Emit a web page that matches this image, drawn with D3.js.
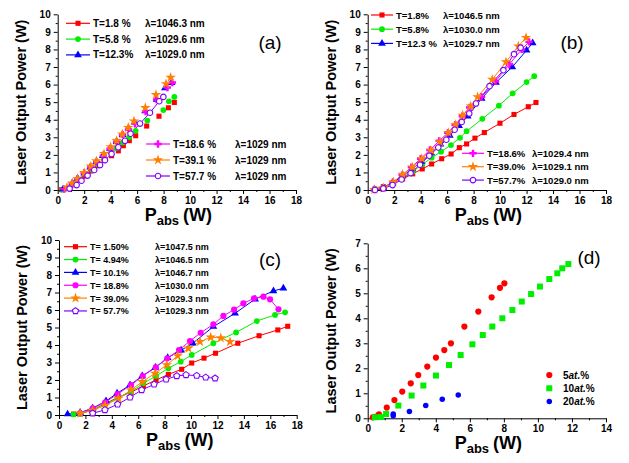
<!DOCTYPE html>
<html><head><meta charset="utf-8">
<script src="https://cdn.jsdelivr.net/npm/d3@7"></script>
<style>body{margin:0;background:#fff}svg{display:block}text{font-family:"Liberation Sans",Arial,sans-serif}</style>
</head><body><svg id="c" width="629" height="463"></svg>
<script>
// ---------- DATA ----------
// Panel (a)
const a_T1_8  = [[0.3,0.02],[0.7,0.08],[1.2,0.3],[1.6,0.55],[2.0,0.8],[2.5,1.08],[3.0,1.38],[3.5,1.68],[4.07,1.95],[4.58,2.23],[4.96,2.52],[5.41,2.81],[5.89,3.09],[6.72,3.64],[7.65,4.2],[8.36,4.68],[8.81,4.98]];
const a_T5_8  = [[0.35,0.02],[0.75,0.1],[1.25,0.35],[1.7,0.6],[2.1,0.9],[2.6,1.15],[3.05,1.45],[3.5,1.78],[4.0,2.1],[4.45,2.38],[4.9,2.7],[5.4,3.0],[5.89,3.37],[6.77,3.95],[7.98,4.55],[8.4,5.05],[8.81,5.3]];
const a_T12_3 = [[0.4,0.05],[1.1,0.4],[1.5,0.65],[2.0,0.95],[2.45,1.3],[2.9,1.6],[3.4,1.95],[3.95,2.35],[4.45,2.75],[4.9,3.15],[5.35,3.5],[5.8,3.85],[6.6,4.5],[7.47,5.15],[8.1,5.8],[8.6,6.1]];
const a_T18_6 = [[0.5,0.05],[1.1,0.38],[1.5,0.65],[2.0,0.97],[2.5,1.3],[2.95,1.6],[3.45,1.95],[3.95,2.35],[4.45,2.75],[4.9,3.15],[5.35,3.45],[5.84,3.77],[6.64,4.47],[7.47,5.15],[8.28,5.83],[8.66,6.12]];
const a_T39_1 = [[0.7,0.15],[1.1,0.38],[1.5,0.65],[2.0,0.98],[2.5,1.35],[2.92,1.65],[3.5,2.07],[4.0,2.45],[4.45,2.81],[4.88,3.18],[5.33,3.55],[5.76,3.92],[6.62,4.68],[7.42,5.42],[8.18,6.04],[8.53,6.4]];
const a_T57_7 = [[0.9,0.08],[1.43,0.28],[1.8,0.53],[2.26,0.82],[2.76,1.14],[3.2,1.42],[3.57,1.7],[4.07,2.05],[4.58,2.43],[5.08,2.8],[5.5,3.2],[6.22,3.78],[6.97,4.4],[7.67,5.05],[7.98,5.3]];
// Panel (b)
const b_T1_8  = [[0.55,0.05],[1.18,0.19],[1.88,0.38],[2.64,0.63],[3.4,0.92],[4.12,1.2],[4.83,1.48],[5.59,1.78],[6.3,2.05],[6.92,2.41],[7.47,2.62],[8.1,2.95],[8.81,3.27],[9.99,3.8],[11.05,4.3],[12.13,4.74],[12.71,4.98]];
const b_T5_8  = [[0.55,0.05],[1.18,0.15],[1.88,0.42],[2.64,0.75],[3.4,1.05],[4.12,1.45],[4.83,1.84],[5.54,2.18],[6.29,2.56],[6.97,2.97],[7.47,3.35],[8.66,4.05],[9.91,4.8],[10.95,5.5],[12.0,6.14],[12.58,6.48]];
const b_T12_3 = [[0.5,0.04],[1.18,0.12],[1.88,0.42],[2.64,0.8],[3.37,1.2],[4.08,1.62],[4.8,2.1],[5.5,2.6],[6.2,3.1],[6.9,3.65],[7.55,4.2],[8.61,5.21],[9.69,6.12],[10.92,7.0],[12.0,7.95],[12.46,8.37]];
const b_T18_6 = [[0.5,0.02],[1.18,0.12],[1.9,0.45],[2.6,0.85],[3.3,1.3],[4.0,1.78],[4.7,2.28],[5.4,2.8],[6.05,3.25],[6.6,3.7],[7.15,4.2],[7.7,4.7],[8.6,5.3],[9.66,6.19],[10.7,7.15],[11.63,8.0],[12.19,8.43]];
const b_T39_0 = [[0.5,0.02],[1.18,0.11],[1.94,0.45],[2.64,0.88],[3.37,1.3],[4.08,1.78],[4.78,2.25],[5.46,2.73],[6.09,3.26],[6.64,3.72],[7.17,4.25],[7.78,4.77],[8.3,5.3],[9.41,6.29],[10.44,7.29],[11.38,8.18],[11.96,8.67]];
const b_T57_7 = [[0.55,0.0],[1.18,0.09],[1.88,0.28],[2.56,0.6],[3.24,0.96],[3.95,1.44],[4.65,1.95],[5.33,2.42],[5.94,2.86],[6.57,3.43],[7.1,3.87],[7.67,4.35],[8.18,4.92],[9.2,5.91],[10.25,6.82],[11.05,7.73],[11.55,8.1]];
// Panel (c)
const c_T1_50 = [[1.1,0.05],[1.6,0.08],[2.6,0.3],[3.5,0.65],[4.45,1.0],[5.45,1.3],[6.39,1.66],[7.35,2.0],[8.28,2.32],[9.29,2.61],[10.05,2.97],[10.98,3.25],[11.85,3.53],[13.54,4.1],[15.15,4.53],[16.57,4.86],[17.32,5.07]];
const c_T4_94 = [[1.1,0.03],[1.6,0.06],[2.55,0.3],[3.5,0.6],[4.45,0.98],[5.45,1.33],[6.39,1.81],[7.35,2.23],[8.28,2.67],[9.22,3.05],[10.05,3.43],[11.69,4.1],[13.41,4.72],[14.98,5.37],[16.36,5.72],[17.12,5.87]];
const c_T10_1 = [[0.65,0.05],[1.6,0.14],[2.55,0.39],[3.56,0.8],[4.4,1.24],[5.38,1.71],[6.3,2.23],[7.3,2.72],[8.23,3.27],[9.24,3.7],[10.13,4.1],[11.69,5.05],[13.33,5.81],[14.85,6.62],[16.24,7.09],[16.99,7.24]];
const c_T18_8 = [[1.6,0.1],[2.55,0.38],[3.5,0.72],[4.44,1.2],[5.45,1.71],[6.34,2.23],[7.33,2.72],[8.2,3.24],[9.09,3.71],[9.92,4.23],[10.73,4.7],[11.69,5.18],[12.45,5.66],[13.26,6.02],[13.96,6.38],[14.77,6.67],[15.48,6.76],[15.98,6.61],[16.62,6.04]];
const c_T39_0 = [[1.6,0.1],[2.55,0.26],[3.5,0.55],[4.5,0.95],[5.45,1.43],[6.31,1.9],[7.27,2.38],[8.16,2.86],[8.99,3.38],[9.8,3.81],[10.68,4.19],[11.49,4.44],[12.25,4.4],[12.95,4.19]];
const c_T57_7 = [[2.55,0.1],[3.48,0.29],[4.44,0.61],[5.38,1.01],[6.26,1.43],[7.2,1.75],[8.11,2.04],[8.92,2.23],[9.62,2.29],[10.43,2.25],[11.11,2.15],[11.82,2.1]];
// Panel (d)
const d_5at  = [[0.3,0.04],[0.5,0.07],[0.66,0.16],[1.12,0.43],[1.57,0.73],[2.03,1.07],[2.53,1.4],[2.97,1.73],[3.5,2.07],[4.01,2.43],[4.5,2.73],[4.89,3.0],[5.68,3.67],[6.5,4.27],[7.28,4.84],[7.77,5.22],[8.03,5.4]];
const d_10at = [[0.42,0.04],[0.77,0.05],[1.08,0.17],[1.8,0.51],[2.58,0.91],[3.27,1.31],[4.01,1.71],[4.78,2.13],[5.46,2.53],[6.15,2.96],[6.76,3.33],[7.32,3.67],[7.91,4.0],[8.5,4.33],[9.05,4.67],[9.6,4.97],[10.12,5.27],[10.67,5.57],[11.14,5.8],[11.43,6.0],[11.79,6.17]];
const d_20at = [[1.5,0.1],[1.5,0.17],[2.45,0.27],[3.41,0.51],[4.38,0.76],[5.32,0.93]];

const xTicks18 = [0,2,4,6,8,10,12,14,16,18];
const xTicks14 = [0,2,4,6,8,10,12,14];
const yTicks10 = [0,1,2,3,4,5,6,7,8,9,10];
const yTicks7  = [0,1,2,3,4,5,6,7];

const labelsA1 = [["T=1.8 %","λ=1046.3 nm"],["T=5.8 %","λ=1029.6 nm"],["T=12.3%","λ=1029.0 nm"]];
const labelsA2 = [["T=18.6 %","λ=1029 nm"],["T=39.1 %","λ=1029 nm"],["T=57.7 %","λ=1029 nm"]];
const labelsB1 = [["T=1.8%","λ=1046.5 nm"],["T=5.8%","λ=1030.0 nm"],["T=12.3 %","λ=1029.7 nm"]];
const labelsB2 = [["T=18.6%","λ=1029.4 nm"],["T=39.0%","λ=1029.1 nm"],["T=57.7%","λ=1029.0 nm"]];
const labelsC  = [["T= 1.50%","λ=1047.5 nm"],["T= 4.94%","λ=1046.5 nm"],["T= 10.1%","λ=1046.7 nm"],["T= 18.8%","λ=1030.0 nm"],["T= 39.0%","λ=1029.3 nm"],["T= 57.7%","λ=1029.3 nm"]];
const labelsD  = [["5","at.","%"],["10","at.","%"],["20","at.","%"]];

// ---------- STYLE ----------
const RED="#ff0000", GRN="#00ee00", BLU="#0000ff", MAG="#ff00ff", ORG="#ff8000", PUR="#8000ff";
const svg = d3.select("#c");

function pentagon(r){
  const p=[];for(let i=0;i<5;i++){const a=-Math.PI/2+i*2*Math.PI/5;p.push([r*Math.cos(a),r*Math.sin(a)]);}
  return "M"+p.map(q=>q.join(",")).join("L")+"Z";
}
function markerPath(kind){
  switch(kind){
    case "square": return d3.symbol(d3.symbolSquare,26)();
    case "circle": return d3.symbol(d3.symbolCircle,26)();
    case "tri": return d3.symbol(d3.symbolTriangle,26)();
    case "star": return d3.symbol(d3.symbolStar,34)();
    case "cross": return d3.symbol(d3.symbolCross,30)();
    case "ocircle": return d3.symbol(d3.symbolCircle,24)();
    case "opent": return pentagon(3.3);
    case "bigsq": return d3.symbol(d3.symbolSquare,36)();
    case "dot": return d3.symbol(d3.symbolCircle,30)();
    case "sdot": return d3.symbol(d3.symbolCircle,24)();
  }
}
function drawMarker(g,kind,color,x,y){
  const open = kind==="ocircle"||kind==="opent";
  g.append("path").attr("d",markerPath(kind)).attr("transform",`translate(${x},${y})`)
   .attr("fill",open?"#fff":color).attr("stroke",open?color:"none").attr("stroke-width",1.1);
}

function panel(cfg){
  const x=d3.scaleLinear().domain([0,cfg.xmax]).range([cfg.l,cfg.r]);
  const y=d3.scaleLinear().domain([0,cfg.ymax]).range([cfg.b,cfg.t]);
  const g=svg.append("g");
  const fmt=d3.format("d");
  const xa=d3.axisBottom(x).tickValues(cfg.xticks).tickFormat(fmt).tickSize(4).tickSizeOuter(0).tickPadding(3);
  const ya=d3.axisLeft(y).tickValues(cfg.yticks).tickFormat(fmt).tickSize(4).tickSizeOuter(0).tickPadding(3);
  const gx=g.append("g").attr("transform",`translate(0,${cfg.b})`).call(xa);
  const gy=g.append("g").attr("transform",`translate(${cfg.l},0)`).call(ya);
  const xminor=d3.range(1,cfg.xmax,2), yminor=d3.range(0.5,cfg.ymax,1);
  g.append("g").attr("transform",`translate(0,${cfg.b})`).call(d3.axisBottom(x).tickValues(xminor).tickSize(2).tickFormat("").tickSizeOuter(0)).select(".domain").remove();
  g.append("g").attr("transform",`translate(${cfg.l},0)`).call(d3.axisLeft(y).tickValues(yminor).tickSize(2).tickFormat("").tickSizeOuter(0)).select(".domain").remove();
  [gx,gy].forEach(a=>{a.selectAll("text").attr("font-size",10).attr("font-weight","bold").attr("fill","#000").style("font-family","Liberation Sans, Arial");
    a.select(".domain").attr("stroke","#000");});
  g.selectAll(".tick line").attr("stroke","#000");
  cfg.series.forEach(s=>{
    if(s.line){
      g.append("path").datum(s.data).attr("fill","none").attr("stroke",s.color).attr("stroke-width",1)
       .attr("d",d3.line().x(d=>x(d[0])).y(d=>y(d[1])));
    }
  });
  cfg.series.forEach(s=>{
    s.data.forEach(d=>drawMarker(g,s.kind,s.color,x(d[0]),y(d[1])));
  });
  g.append("text").attr("transform",`translate(${cfg.l-32},${(cfg.t+cfg.b)/2}) rotate(-90)`)
   .attr("text-anchor","middle").attr("font-size",14.5).attr("font-weight","bold").text("Laser Output Power (W)");
  const tx=g.append("text").attr("x",cfg.l+87).attr("y",cfg.b+31).attr("font-weight","bold").attr("font-size",18);
  tx.append("tspan").text("P");
  tx.append("tspan").attr("font-size",13).attr("dy",4).text("abs");
  tx.append("tspan").attr("dy",-4).attr("dx",4).text("(W)");
  g.append("text").attr("x",cfg.letter[0]).attr("y",cfg.letter[1]).attr("font-size",19).attr("text-anchor","middle")
   .text(cfg.letter[2]);
  return {g,x,y};
}

function legend(g,items,x0,y0,dy,lineLen,tx2,fs,series){
  items.forEach((it,i)=>{
    const s=series[i], yy=y0+i*dy;
    g.append("line").attr("x1",x0).attr("x2",x0+lineLen).attr("y1",yy).attr("y2",yy).attr("stroke",s.color).attr("stroke-width",1.2);
    drawMarker(g,s.kind,s.color,x0+lineLen/2,yy);
    g.append("text").attr("x",x0+lineLen+3).attr("y",yy+3.5).attr("font-size",fs).attr("font-weight","bold").text(it[0]);
    g.append("text").attr("x",tx2).attr("y",yy+3.5).attr("font-size",fs).attr("font-weight","bold").text(it[1]);
  });
}

// ---------- PANEL A ----------
const sa=[{data:a_T1_8,color:RED,kind:"square"},{data:a_T5_8,color:GRN,kind:"circle"},{data:a_T12_3,color:BLU,kind:"tri"},
          {data:a_T18_6,color:MAG,kind:"cross"},{data:a_T39_1,color:ORG,kind:"star"},{data:a_T57_7,color:PUR,kind:"ocircle",line:true}];
const A=panel({l:57.7,r:296,t:14.3,b:190,xmax:18,ymax:10,xticks:xTicks18,yticks:yTicks10,series:sa,letter:[270,49,"(a)"]});
legend(A.g,labelsA1,66,23.3,15.8,24,145,10,sa.slice(0,3));
legend(A.g,labelsA2,146,144,16,24,235,10,sa.slice(3));

// ---------- PANEL B ----------
const sb=[{data:b_T1_8,color:RED,kind:"square",line:true},{data:b_T5_8,color:GRN,kind:"circle",line:true},{data:b_T12_3,color:BLU,kind:"tri",line:true},
          {data:b_T18_6,color:MAG,kind:"cross",line:true},{data:b_T39_0,color:ORG,kind:"star",line:true},{data:b_T57_7,color:PUR,kind:"ocircle",line:true}];
const B=panel({l:367.7,r:606,t:14.3,b:190,xmax:18,ymax:10,xticks:xTicks18,yticks:yTicks10,series:sb,letter:[572,49,"(b)"]});
legend(B.g,labelsB1,371,15,14.2,22,443,9.5,sb.slice(0,3));
legend(B.g,labelsB2,462,153.3,13.4,22,532,9.5,sb.slice(3));

// ---------- PANEL C ----------
const sc=[{data:c_T1_50,color:RED,kind:"square",line:true},{data:c_T4_94,color:GRN,kind:"circle",line:true},{data:c_T10_1,color:BLU,kind:"tri",line:true},
          {data:c_T18_8,color:MAG,kind:"dot",line:true},{data:c_T39_0,color:ORG,kind:"star",line:true},{data:c_T57_7,color:PUR,kind:"opent",line:true}];
const C=panel({l:59,r:296.7,t:240,b:415,xmax:18,ymax:10,xticks:xTicks18,yticks:yTicks10,series:sc,letter:[270,266,"(c)"]});
legend(C.g,labelsC,64,246.7,12.85,23,155,9,sc);

// ---------- PANEL D ----------
const sd=[{data:d_5at,color:RED,kind:"dot"},{data:d_10at,color:GRN,kind:"bigsq"},{data:d_20at,color:BLU,kind:"sdot"}];
const D=panel({l:367.7,r:606,t:243.3,b:418.3,xmax:14,ymax:7,xticks:xTicks14,yticks:yTicks7,series:sd,letter:[589,264,"(d)"]});
labelsD.forEach((it,i)=>{
  const yy=375+i*13.3, s=sd[i];
  drawMarker(D.g,s.kind,s.color,549.3,yy);
  const t=D.g.append("text").attr("x",563).attr("y",yy+3.5).attr("font-size",10).attr("font-weight","bold");
  t.append("tspan").text(it[0]);
  t.append("tspan").attr("font-style","italic").text(it[1]);
  t.append("tspan").text(it[2]);
});
</script></body></html>
